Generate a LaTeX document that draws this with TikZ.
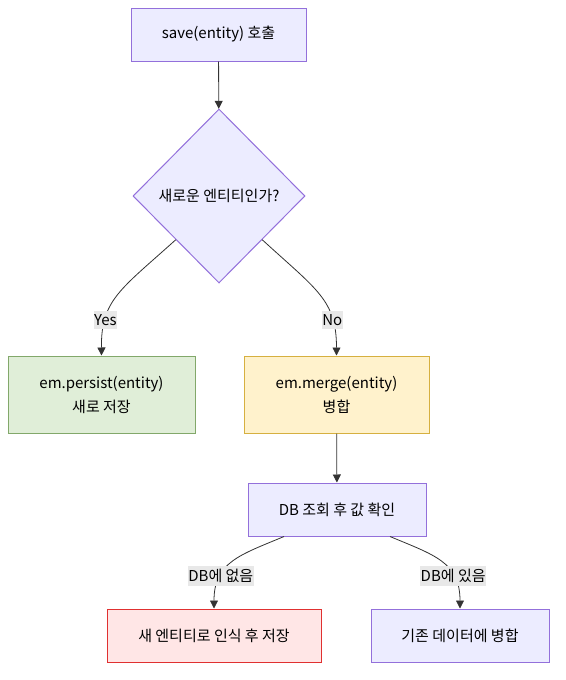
\documentclass[tikz,border=0pt]{standalone}
\usepackage{fontspec}
\setmainfont{Noto Sans CJK KR}
\usetikzlibrary{shapes.geometric,arrows.meta}
\definecolor{boxfill}{HTML}{ECECFF}
\definecolor{boxline}{HTML}{9370DB}
\definecolor{greenfill}{HTML}{E0EED8}
\definecolor{greenline}{HTML}{82A86A}
\definecolor{yellowfill}{HTML}{FFF2CC}
\definecolor{yellowline}{HTML}{D6B040}
\definecolor{redfill}{HTML}{FFE6E6}
\definecolor{redline}{HTML}{E03030}
\definecolor{edgecol}{HTML}{333333}
\definecolor{lblfill}{HTML}{E8E8E8}
\tikzset{
  box/.style={draw=boxline, fill=boxfill, line width=1pt, align=center,
    font=\fontsize{15}{24}\selectfont, inner sep=0pt},
  lbl/.style={fill=lblfill, font=\fontsize{15}{16}\selectfont, inner xsep=0.5pt, inner ysep=3pt},
  link/.style={->, draw=edgecol, line width=0.8pt}
}
\begin{document}
\begin{tikzpicture}[x=1pt,y=-1pt,>={Stealth[length=8pt,width=8pt,inset=0pt]}]
    \useasboundingbox (0,0) rectangle (565,680);
    % Nos
    \node[box, minimum width=175pt, minimum height=53pt] (save) at (218.5,34.5) {save(entity) 호출};
    \node[box, diamond, minimum width=172pt, minimum height=174pt] (isnew) at (219,196) {새로운 엔티티인가?};
    \node[box, fill=greenfill, draw=greenline, minimum width=187pt, minimum height=77pt] (persist) at (101.5,394.5) {em.persist(entity)\\새로 저장};
    \node[box, fill=yellowfill, draw=yellowline, minimum width=185pt, minimum height=77pt] (merge) at (336.5,394.5) {em.merge(entity)\\병합};
    \node[box, minimum width=178pt, minimum height=53pt] (lookup) at (337,509.5) {DB 조회 후 값 확인};
    \node[box, fill=redfill, draw=redline, minimum width=214pt, minimum height=53pt] (newsave) at (214,635.5) {새 엔티티로 인식 후 저장};
    \node[box, minimum width=178pt, minimum height=53pt] (oldmerge) at (460,635.5) {기존 데이터에 병합};

    % Ligacoes
    \draw[link] (save) -- (isnew);
    \draw[link] (isnew.south west) .. controls (120,290) and (101,300) .. node[lbl, pos=0.74] (yes) {Yes} (persist.north);
    \draw[link] (isnew.south east) .. controls (317,290) and (336.5,300) .. node[lbl, pos=0.74] (no) {No} (merge.north);
    \draw[link] (merge) -- (lookup);
    \draw[link] (lookup.south) ++(-53,0) coordinate (l1) (l1) .. controls (240,555) and (214,562) .. node[lbl, pos=0.7] (notin) {DB에 없음} (newsave.north);
    \draw[link] (lookup.south) ++(53,0) coordinate (r1) (r1) .. controls (434,555) and (460,562) .. node[lbl, pos=0.7] (isin) {DB에 있음} (oldmerge.north);
\end{tikzpicture}
\end{document}
